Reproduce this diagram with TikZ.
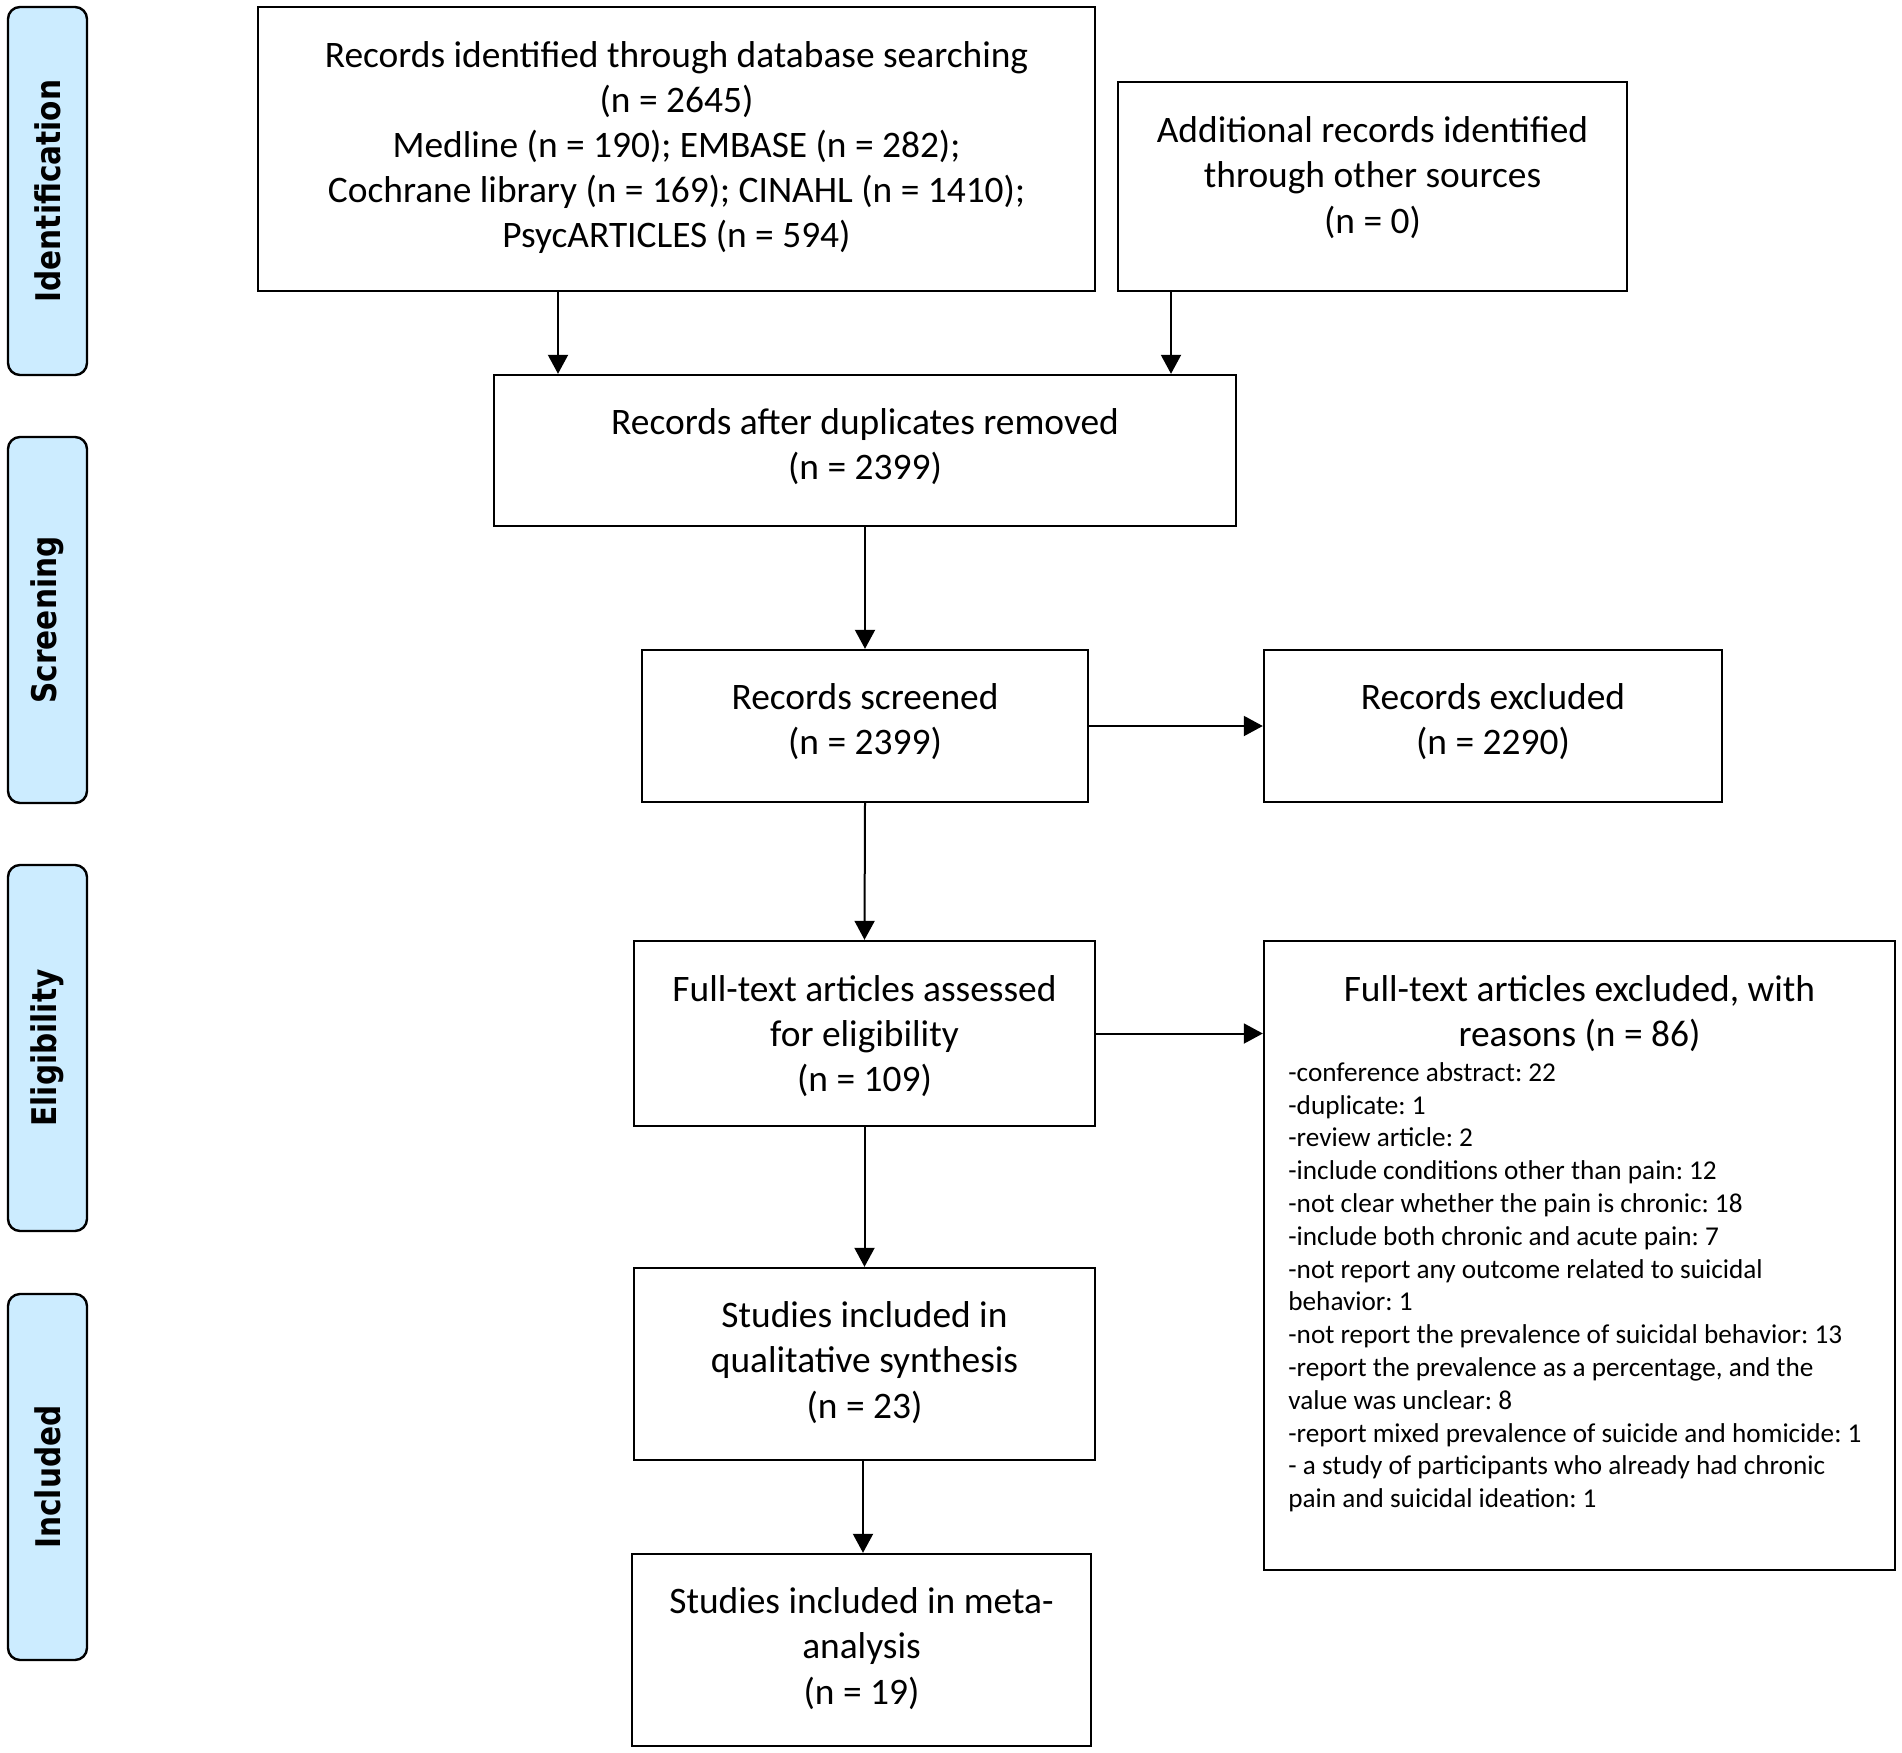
\documentclass[tikz,border=0pt]{standalone}
\usepackage{fontspec}
\setmainfont{Carlito}
\newfontfamily\phasefont{DejaVu Sans}
\usetikzlibrary{arrows.meta}
\definecolor{phaseblue}{RGB}{204,236,255}
\tikzset{
  box/.style={draw, line width=1.2pt, inner sep=0pt},
  phase/.style={draw, line width=1.2pt, fill=phaseblue, rounded corners=6pt,
    inner sep=0pt, rotate=90, minimum height=39.5pt,
    font=\phasefont\bfseries\fontsize{17}{20}\selectfont},
  arr/.style={-{Triangle[width=10pt,length=9.5pt]}, line width=1pt},
  plain/.style={inner sep=0pt, align=center, font=\fontsize{18.7}{22.6}\selectfont},
  listtext/.style={inner sep=0pt, align=left, font=\fontsize{13.6}{16.4}\selectfont}
}
\newcommand{\phlabel}[1]{\scalebox{0.87}[1]{#1}}
\begin{document}
\frenchspacing
\begin{tikzpicture}[x=0.5pt,y=-0.5pt]
\useasboundingbox (0,0) rectangle (1902,1752);
% phase labels
\node[phase, minimum width=184pt] (p1) at (47.5,191) {\phlabel{Identification}};
\node[phase, minimum width=183pt] (p2) at (47.5,620) {\phlabel{Screening}};
\node[phase, minimum width=183pt] (p3) at (47.5,1048) {\phlabel{Eligibility}};
\node[phase, minimum width=183pt] (p4) at (47.5,1477) {\phlabel{Included}};
% boxes
\node[box, minimum width=418.5pt, minimum height=142pt] (b1) at (676.5,149) {};
\node[plain] (b1t) at (676.5,147.5)
  {Records identified through database searching\\(n = 2645)\\Medline (n = 190); EMBASE (n = 282);\\Cochrane library (n = 169); CINAHL (n = 1410);\\PsycARTICLES (n = 594)};
\node[box, minimum width=254.5pt, minimum height=104.5pt] (b2) at (1372.5,186.5) {};
\node[plain] (b2t) at (1372.5,177.5)
  {Additional records identified\\through other sources\\(n = 0)};
\node[box, minimum width=371pt, minimum height=75.5pt] (b3) at (865,450.5) {};
\node[plain] (b3t) at (865,446.5) {Records after duplicates removed\\(n = 2399)};
\node[box, minimum width=223pt, minimum height=76pt] (b4) at (865,726) {};
\node[plain] (b4t) at (865,721.5) {Records screened\\(n = 2399)};
\node[box, minimum width=229pt, minimum height=76pt] (b5) at (1493,726) {};
\node[plain] (b5t) at (1493,721.5) {Records excluded\\(n = 2290)};
\node[box, minimum width=230.5pt, minimum height=92.5pt] (b6) at (864.5,1033.5) {};
\node[plain] (b6t) at (864.5,1036) {Full-text articles assessed\\for eligibility\\(n = 109)};
\node[box, minimum width=315.5pt, minimum height=314.5pt] (b7) at (1579.5,1255.5) {};
\node[plain] (b7h) at (1579.5,1013.5) {Full-text articles excluded, with\\reasons (n = 86)};
\node[listtext, anchor=north west] (b7l) at (1288,1062)
  {-conference abstract: 22\\
   -duplicate: 1\\
   -review article: 2\\
   -include conditions other than pain: 12\\
   -not clear whether the pain is chronic: 18\\
   -include both chronic and acute pain: 7\\
   -not report any outcome related to suicidal\\
   behavior: 1\\
   -not report the prevalence of suicidal behavior: 13\\
   -report the prevalence as a percentage, and the\\
   value was unclear: 8\\
   -report mixed prevalence of suicide and homicide: 1\\
   - a study of participants who already had chronic\\
   pain and suicidal ideation: 1};
\node[box, minimum width=230.5pt, minimum height=96pt] (b8) at (864.5,1364) {};
\node[plain] (b8t) at (864.5,1362.5) {Studies included in\\qualitative synthesis\\(n = 23)};
\node[box, minimum width=229.5pt, minimum height=96pt] (b9) at (861.5,1650) {};
\node[plain] (b9t) at (861.5,1648.5) {Studies included in meta-\\analysis\\(n = 19)};
% arrows
\coordinate (c1) at (558,0);
\coordinate (c2) at (1171,0);
\coordinate (c8) at (863,0);
\draw[arr] (c1 |- b1.south) -- (c1 |- b3.north);
\draw[arr] (c2 |- b2.south) -- (c2 |- b3.north);
\draw[arr] (b3.south) -- (b4.north);
\draw[arr] (b4.east) -- (b5.west);
\draw[arr] (b4.south) -- (b6.north);
\draw[arr] (b6.east) -- (b6.east -| b7.west);
\draw[arr] (b6.south) -- (b8.north);
\draw[arr] (c8 |- b8.south) -- (c8 |- b9.north);
\end{tikzpicture}
\end{document}
